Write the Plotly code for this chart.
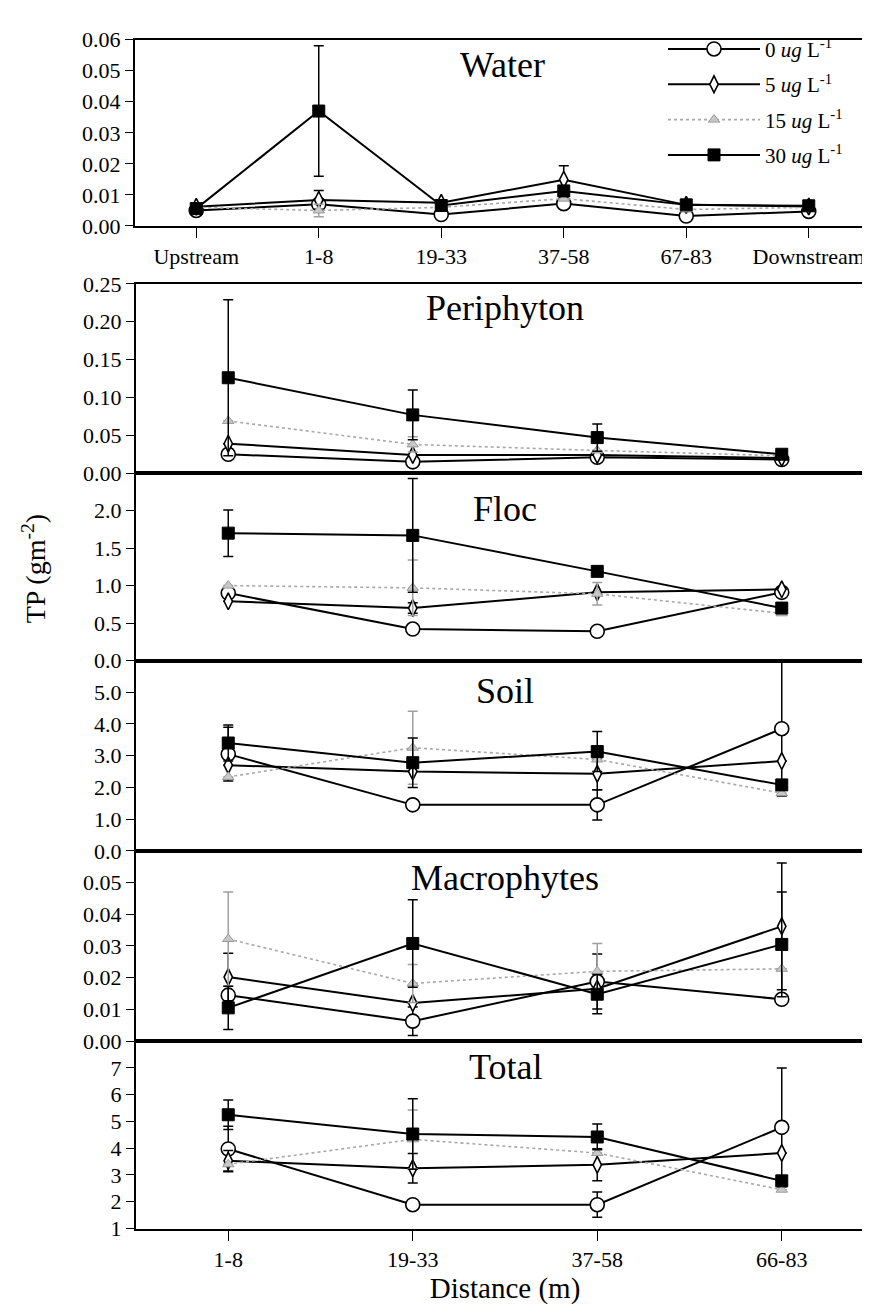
import plotly.graph_objects as go

# ---------------- data ----------------
water_sites = ["Upstream", "1-8", "19-33", "37-58", "67-83", "Downstream"]
sites = ["1-8", "19-33", "37-58", "66-83"]
series_names = ["0 <i>ug</i> L<sup>-1</sup>", "5 <i>ug</i> L<sup>-1</sup>",
                "15 <i>ug</i> L<sup>-1</sup>", "30 <i>ug</i> L<sup>-1</sup>"]

# means for 0, 5, 15, 30 ug/L ; errors (SE) alongside
water_mean = [
    [0.0050, 0.0070, 0.0037, 0.0072, 0.0032, 0.0047],
    [0.0062, 0.0084, 0.0075, 0.0149, 0.0068, 0.0063],
    [0.0060, 0.0050, 0.0060, 0.0088, 0.0053, 0.0060],
    [0.0056, 0.0370, 0.0066, 0.0113, 0.0068, 0.0065],
]
water_err = [
    [0, 0, 0, 0, 0, 0],
    [0, 0.0030, 0, 0.0045, 0, 0],
    [0, 0.0020, 0, 0, 0, 0],
    [0, 0.0210, 0, 0, 0, 0],
]

periphyton_mean = [
    [0.025, 0.015, 0.021, 0.018],
    [0.039, 0.024, 0.024, 0.020],
    [0.069, 0.038, 0.030, 0.023],
    [0.126, 0.077, 0.047, 0.025],
]
periphyton_err = [
    [0, 0, 0, 0],
    [0, 0, 0, 0],
    [0, 0.010, 0, 0],
    [0.103, 0.033, 0.018, 0],
]

floc_mean = [
    [0.90, 0.42, 0.39, 0.91],
    [0.79, 0.70, 0.91, 0.95],
    [1.00, 0.97, 0.89, 0.63],
    [1.70, 1.67, 1.19, 0.70],
]
floc_err = [
    [0, 0, 0, 0],
    [0, 0.07, 0, 0],
    [0, 0.37, 0.15, 0],
    [0.31, 0.76, 0, 0],
]

soil_mean = [
    [3.05, 1.45, 1.45, 3.85],
    [2.70, 2.50, 2.43, 2.83],
    [2.33, 3.25, 2.88, 1.82],
    [3.40, 2.78, 3.13, 2.08],
]
soil_err = [
    [0.85, 0, 0.48, 2.12],
    [0, 0, 0.50, 0],
    [0, 1.15, 0, 0],
    [0.57, 0.78, 0.63, 0],
]

macro_mean = [
    [0.0145, 0.0063, 0.0188, 0.0132],
    [0.0202, 0.0120, 0.0165, 0.0362],
    [0.0322, 0.0182, 0.0220, 0.0228],
    [0.0105, 0.0308, 0.0148, 0.0305],
]
macro_err = [
    [0, 0.0045, 0.0087, 0],
    [0.0075, 0, 0, 0.0200],
    [0.0148, 0.0060, 0.0088, 0],
    [0.0068, 0.0138, 0.0062, 0.0165],
]

total_mean = [
    [3.97, 1.89, 1.89, 4.78],
    [3.53, 3.25, 3.38, 3.82],
    [3.40, 4.33, 3.82, 2.45],
    [5.25, 4.53, 4.42, 2.78],
]
total_err = [
    [0.85, 0, 0.47, 2.22],
    [0.38, 0.55, 0.60, 0],
    [0, 1.10, 0, 0],
    [0.55, 1.32, 0.48, 0],
]

water_ticks = [0, 0.01, 0.02, 0.03, 0.04, 0.05, 0.06]
periphyton_ticks = [0, 0.05, 0.10, 0.15, 0.20, 0.25]
floc_ticks = [0, 0.5, 1.0, 1.5, 2.0]
soil_ticks = [0, 1, 2, 3, 4, 5]
macro_ticks = [0, 0.01, 0.02, 0.03, 0.04, 0.05]
total_ticks = [1, 2, 3, 4, 5, 6, 7]

# ---------------- layout geometry (pixels) ----------------
W, H = 870, 1311
FONT = "Liberation Serif, Times New Roman, serif"

def px_x(a, b):
    return [a / W, b / W]

def px_y(top, bottom):
    return [1 - bottom / H, 1 - top / H]

panels = [
    # name, sites, means, errs, y-range, ticks, tickformat, top, bottom, title offset
    ("Water", water_sites, water_mean, water_err, [0, 0.06], water_ticks, ".2f", 20, 210, 26),
    ("Periphyton", sites, periphyton_mean, periphyton_err, [0, 0.25], periphyton_ticks, ".2f", 269, 462, 25),
    ("Floc", sites, floc_mean, floc_err, [0, 2.5], floc_ticks, ".1f", 462, 653, 36),
    ("Soil", sites, soil_mean, soil_err, [0, 6], soil_ticks, ".1f", 653, 847, 31),
    ("Macrophytes", sites, macro_mean, macro_err, [0, 0.06], macro_ticks, ".2f", 847, 1041, 28),
    ("Total", sites, total_mean, total_err, [1, 8], total_ticks, "d", 1041, 1232, 26),
]

styles = [
    dict(line=dict(color="black", width=2),
         marker=dict(symbol="circle", size=14, color="white", line=dict(color="black", width=1.6)),
         ecolor="black"),
    dict(line=dict(color="black", width=2),
         marker=dict(symbol="diamond-tall", size=12, color="white", line=dict(color="black", width=1.6)),
         ecolor="black"),
    dict(line=dict(color="#a8a8a8", width=1.6, dash="dot"),
         marker=dict(symbol="triangle-up", size=10, color="#c8c8c8", line=dict(color="#9a9a9a", width=1)),
         ecolor="#a0a0a0"),
    dict(line=dict(color="black", width=2),
         marker=dict(symbol="square", size=12, color="black", line=dict(color="black", width=1)),
         ecolor="black"),
]

fig = go.Figure()
annotations = []
layout_axes = {}

for i, (name, cats, means, errs, yr, ticks, fmt, top, bottom, toff) in enumerate(panels):
    n = i + 1
    xa = "x" if n == 1 else f"x{n}"
    ya = "y" if n == 1 else f"y{n}"
    for s in range(4):
        st = styles[s]
        fig.add_trace(go.Scatter(
            x=cats, y=means[s], mode="lines+markers",
            name=series_names[s], showlegend=(n == 1),
            legendgroup=str(s),
            line=st["line"], marker=st["marker"],
            error_y=dict(type="data", array=errs[s], visible=True,
                         color=st["ecolor"], thickness=1.5, width=5),
            xaxis=xa, yaxis=ya,
        ))
    if n == 1:
        xdom = px_x(127, 862)
    else:
        xdom = px_x(128, 866)
    ncat = len(cats)
    show_xlabels = (n == 1 or n == 6)
    xkey = "xaxis" if n == 1 else f"xaxis{n}"
    ykey = "yaxis" if n == 1 else f"yaxis{n}"
    layout_axes[xkey] = dict(
        domain=xdom, anchor=ya, type="category",
        range=[-0.5, ncat - 0.5],
        categoryorder="array", categoryarray=cats,
        showline=True, mirror=True, linecolor="black", linewidth=2,
        showgrid=False, zeroline=False,
        ticks="outside" if show_xlabels else "", ticklen=10, tickwidth=1.3, tickcolor="black",
        showticklabels=show_xlabels,
        tickfont=dict(family=FONT, size=22, color="black"),
    )
    layout_axes[ykey] = dict(
        domain=px_y(top, bottom), anchor=xa,
        range=yr, tickvals=ticks, tickformat=fmt,
        showline=True, mirror=True, linecolor="black", linewidth=2,
        showgrid=False, zeroline=False,
        ticks="outside", ticklen=8, tickwidth=1.3, tickcolor="black",
        tickfont=dict(family=FONT, size=22, color="black"),
    )
    annotations.append(dict(
        text=name, showarrow=False,
        xref=f"{xa} domain", yref=f"{ya} domain",
        x=0.5, y=1 - toff / (bottom - top), xanchor="center", yanchor="middle",
        font=dict(family=FONT, size=36, color="black"),
    ))

layout_axes["xaxis6"]["title"] = dict(text="Distance (m)", standoff=6,
                                      font=dict(family=FONT, size=29, color="black"))

annotations.append(dict(
    text="TP (gm<sup>-2</sup>)", showarrow=False, textangle=-90,
    xref="paper", yref="paper", x=26 / W, y=1 - 560 / H,
    xanchor="center", yanchor="middle",
    font=dict(family=FONT, size=28, color="black"),
))

fig.update_layout(
    width=W, height=H,
    margin=dict(l=0, r=0, t=0, b=0),
    paper_bgcolor="white", plot_bgcolor="white",
    showlegend=True,
    legend=dict(x=655 / W, y=1 - 9 / H, xanchor="left", yanchor="top",
                bgcolor="rgba(0,0,0,0)", borderwidth=0,
                font=dict(family=FONT, size=21, color="black"),
                itemwidth=92, tracegroupgap=5),
    annotations=annotations,
    font=dict(family=FONT, color="black"),
    **layout_axes,
)

fig.write_html("out.html")
